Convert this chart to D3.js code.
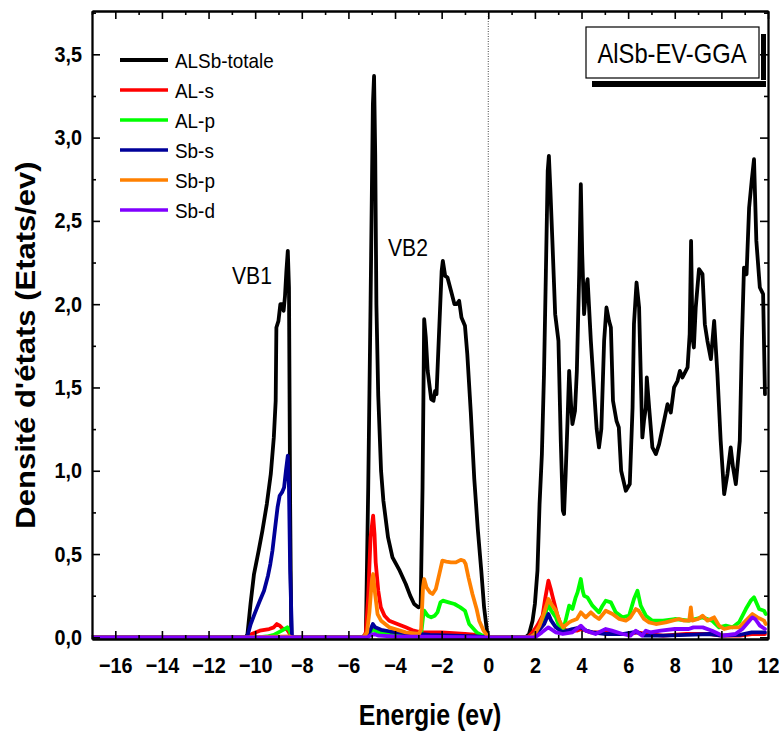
<!DOCTYPE html>
<html><head><meta charset="utf-8">
<script src="https://cdn.jsdelivr.net/npm/d3@7"></script>
<style>body{margin:0;background:#fff}svg{display:block}</style>
</head><body>
<svg id="c" width="779" height="734"></svg>
<script>
// ---------------- data ----------------
const seriesNames = ["ALSb-totale","AL-s","AL-p","Sb-s","Sb-p","Sb-d"];
const seriesColors = ["#000000","#ff0000","#00ff00","#000099","#ff8000","#8000ff"];
const xTicks = [-16,-14,-12,-10,-8,-6,-4,-2,0,2,4,6,8,10,12];
const xMinorTicks = [-17,-15,-13,-11,-9,-7,-5,-3,-1,1,3,5,7,9,11];
const yTicks = [0,0.5,1.0,1.5,2.0,2.5,3.0,3.5];
const yMinorTicks = [0.25,0.75,1.25,1.75,2.25,2.75,3.25,3.75];
const bandLabels = ["VB1","VB2"];
const boxLabel = "AlSb-EV-GGA";

const total = [[-17,0],[-10.4,0],[-10.33,0.02],[-10.2,0.2],[-10.05,0.38],[-9.85,0.52],[-9.69,0.64],[-9.5,0.8],[-9.33,0.98],[-9.2,1.2],[-9.12,1.42],[-9.09,1.86],[-9.0,1.9],[-8.92,2.0],[-8.85,2.0],[-8.78,1.96],[-8.72,2.05],[-8.66,2.2],[-8.6,2.32],[-8.55,2.1],[-8.5,0.8],[-8.45,0.0],
[-5.4,0],[-5.25,0.02],[-5.15,0.9],[-5.05,2.0],[-4.95,3.2],[-4.9,3.37],[-4.85,2.9],[-4.8,2.0],[-4.72,1.45],[-4.6,1.0],[-4.5,0.82],[-4.3,0.6],[-4.11,0.48],[-3.8,0.4],[-3.54,0.32],[-3.35,0.25],[-3.18,0.2],[-3.0,0.18],[-2.9,0.19],[-2.82,0.9],[-2.75,1.91],[-2.68,1.8],[-2.6,1.6],[-2.45,1.43],[-2.35,1.42],[-2.28,1.48],[-2.22,1.46],[-2.12,1.8],[-2.0,2.2],[-1.95,2.26],[-1.85,2.17],[-1.75,2.16],[-1.6,2.08],[-1.45,2.0],[-1.35,2.0],[-1.25,2.02],[-1.15,1.92],[-1.0,1.87],[-0.9,1.7],[-0.75,1.35],[-0.6,0.95],[-0.45,0.65],[-0.3,0.4],[-0.18,0.18],[-0.05,0.03],[0,0],
[1.6,0],[1.75,0.02],[1.9,0.1],[2.0,0.2],[2.11,0.4],[2.2,0.8],[2.3,1.1],[2.39,1.58],[2.47,2.18],[2.55,2.8],[2.6,2.89],[2.66,2.7],[2.75,2.38],[2.87,1.94],[3.01,1.78],[3.11,1.18],[3.2,0.76],[3.25,0.74],[3.32,0.98],[3.4,1.3],[3.47,1.6],[3.55,1.4],[3.61,1.28],[3.72,1.36],[3.8,1.6],[3.9,2.18],[3.97,2.72],[4.03,2.3],[4.11,1.94],[4.2,2.1],[4.26,2.15],[4.4,1.78],[4.54,1.48],[4.65,1.25],[4.75,1.14],[4.85,1.25],[4.97,1.78],[5.07,1.98],[5.18,1.9],[5.26,1.86],[5.35,1.42],[5.5,1.3],[5.6,1.26],[5.7,1.0],[5.9,0.88],[6.07,0.92],[6.19,1.38],[6.25,1.88],[6.36,2.13],[6.47,1.98],[6.54,1.58],[6.61,1.2],[6.68,1.3],[6.76,1.38],[6.8,1.56],[6.9,1.38],[7.04,1.14],[7.19,1.10],[7.33,1.16],[7.54,1.30],[7.69,1.40],[7.83,1.35],[7.97,1.5],[8.12,1.54],[8.22,1.6],[8.33,1.56],[8.55,1.62],[8.64,1.82],[8.7,2.38],[8.76,1.8],[8.82,1.74],[8.9,1.98],[9.04,2.21],[9.19,2.18],[9.29,1.88],[9.4,1.78],[9.55,1.67],[9.69,1.9],[9.83,1.58],[9.97,1.18],[10.12,0.86],[10.26,0.98],[10.4,1.14],[10.5,1.02],[10.62,0.92],[10.79,1.18],[10.88,1.78],[10.97,2.22],[11.08,2.18],[11.19,2.58],[11.3,2.74],[11.4,2.87],[11.5,2.38],[11.65,2.1],[11.79,2.06],[11.87,1.46]];

const alS = [[-17,0],[-10.3,0],[-10.15,0.02],[-9.8,0.04],[-9.4,0.05],[-9.2,0.06],[-9.07,0.08],[-8.95,0.07],[-8.8,0.05],[-8.65,0.05],[-8.55,0.03],[-8.45,0],
[-5.35,0],[-5.25,0.03],[-5.15,0.25],[-5.05,0.6],[-4.94,0.73],[-4.88,0.62],[-4.83,0.45],[-4.72,0.28],[-4.61,0.18],[-4.45,0.13],[-4.25,0.10],[-3.9,0.08],[-3.54,0.06],[-3.2,0.04],[-2.9,0.03],[-2.5,0.03],[-2.0,0.03],[-1.5,0.025],[-1.0,0.02],[-0.5,0.015],[-0.1,0.005],[0,0],
[1.7,0],[1.9,0.03],[2.1,0.07],[2.33,0.13],[2.45,0.24],[2.58,0.34],[2.68,0.29],[2.75,0.25],[2.97,0.13],[3.18,0.05],[3.4,0.04],[3.8,0.04],[4.0,0.05],[4.4,0.03],[5.0,0.03],[5.5,0.02],[6.0,0.02],[6.4,0.03],[6.8,0.02],[7.5,0.01],[8.5,0.02],[9.5,0.02],[10.0,0.01],[10.8,0.01],[11.3,0.02],[11.87,0.02]];

const alP = [[-17,0],[-9.9,0],[-9.5,0.005],[-9.2,0.015],[-9.0,0.03],[-8.8,0.045],[-8.62,0.06],[-8.52,0.04],[-8.45,0],
[-5.3,0],[-5.1,0.02],[-4.95,0.05],[-4.85,0.04],[-4.6,0.025],[-4.2,0.02],[-3.6,0.015],[-3.0,0.015],[-2.88,0.02],[-2.8,0.12],[-2.75,0.16],[-2.6,0.13],[-2.45,0.12],[-2.3,0.13],[-2.18,0.15],[-2.05,0.21],[-1.95,0.22],[-1.7,0.21],[-1.45,0.2],[-1.2,0.18],[-1.0,0.16],[-0.82,0.08],[-0.5,0.03],[-0.25,0.01],[0,0],
[1.8,0],[2.0,0.02],[2.2,0.06],[2.4,0.12],[2.58,0.2],[2.7,0.16],[2.9,0.12],[3.05,0.06],[3.21,0.04],[3.35,0.12],[3.47,0.19],[3.61,0.17],[3.75,0.24],[3.83,0.27],[3.97,0.35],[4.05,0.28],[4.11,0.25],[4.25,0.24],[4.47,0.19],[4.75,0.15],[4.9,0.19],[5.04,0.22],[5.26,0.21],[5.47,0.15],[5.76,0.12],[6.04,0.13],[6.25,0.23],[6.4,0.28],[6.54,0.19],[6.76,0.13],[7.04,0.10],[7.5,0.10],[8.0,0.11],[8.6,0.10],[9.19,0.12],[9.6,0.10],[9.9,0.06],[10.19,0.07],[10.48,0.06],[10.76,0.09],[11.05,0.17],[11.26,0.22],[11.4,0.24],[11.62,0.17],[11.83,0.16],[11.9,0.14]];

const sbS = [[-17,0],[-10.4,0],[-10.33,0.01],[-10.19,0.08],[-10.0,0.15],[-9.8,0.22],[-9.62,0.28],[-9.45,0.37],[-9.35,0.44],[-9.26,0.52],[-9.15,0.65],[-9.04,0.78],[-8.95,0.85],[-8.85,0.87],[-8.76,0.90],[-8.68,1.0],[-8.6,1.09],[-8.55,0.9],[-8.5,0.4],[-8.42,0],
[-5.3,0],[-5.1,0.03],[-4.95,0.08],[-4.85,0.06],[-4.6,0.045],[-4.2,0.035],[-3.6,0.025],[-3.0,0.02],[-2.5,0.015],[-1.5,0.01],[-0.5,0.005],[0,0],
[1.8,0],[2.1,0.03],[2.4,0.08],[2.58,0.14],[2.7,0.1],[2.9,0.06],[3.18,0.03],[3.4,0.04],[3.61,0.05],[3.97,0.06],[4.2,0.04],[4.47,0.03],[5.04,0.02],[5.76,0.02],[6.2,0.03],[6.4,0.03],[6.7,0.01],[7.5,0.01],[8.5,0.015],[9.5,0.02],[10.0,0.01],[10.8,0.015],[11.3,0.03],[11.87,0.03]];

const sbP = [[-17,0],[-10.3,0],[-9.5,0.003],[-8.5,0.005],[-8.45,0],
[-5.35,0],[-5.2,0.03],[-5.1,0.15],[-5.0,0.33],[-4.94,0.38],[-4.87,0.28],[-4.75,0.14],[-4.6,0.1],[-4.25,0.06],[-3.54,0.03],[-2.97,0.02],[-2.88,0.05],[-2.8,0.3],[-2.75,0.35],[-2.65,0.3],[-2.5,0.27],[-2.39,0.26],[-2.25,0.29],[-2.1,0.38],[-1.97,0.46],[-1.8,0.455],[-1.6,0.45],[-1.39,0.45],[-1.18,0.465],[-1.05,0.46],[-0.97,0.44],[-0.85,0.36],[-0.68,0.26],[-0.5,0.17],[-0.39,0.10],[-0.2,0.04],[-0.05,0.01],[0,0],
[1.8,0],[2.0,0.02],[2.2,0.07],[2.4,0.15],[2.58,0.23],[2.7,0.2],[2.9,0.16],[3.05,0.1],[3.21,0.06],[3.47,0.09],[3.61,0.10],[3.8,0.11],[3.97,0.15],[4.18,0.12],[4.4,0.15],[4.55,0.13],[4.75,0.11],[5.04,0.16],[5.33,0.14],[5.62,0.11],[5.9,0.10],[6.1,0.12],[6.33,0.17],[6.45,0.16],[6.68,0.11],[6.9,0.09],[7.19,0.08],[7.61,0.09],[7.9,0.10],[8.18,0.11],[8.4,0.10],[8.62,0.10],[8.69,0.18],[8.75,0.10],[9.0,0.11],[9.19,0.13],[9.4,0.10],[9.55,0.11],[9.69,0.12],[9.9,0.07],[10.12,0.05],[10.4,0.06],[10.76,0.06],[11.05,0.10],[11.33,0.14],[11.55,0.12],[11.83,0.10],[11.9,0.08]];

const sbD = [[-17,0],[-5.2,0],[-5.0,0.015],[-4.9,0.02],[-4.7,0.01],[-4.0,0.005],[0,0],
[2.0,0],[2.3,0.03],[2.58,0.06],[2.9,0.03],[3.2,0.02],[3.61,0.03],[3.97,0.07],[4.18,0.04],[4.6,0.02],[5.04,0.05],[5.3,0.04],[5.76,0.02],[6.1,0.01],[6.33,0.04],[6.5,0.02],[6.6,0.01],[6.76,0.04],[6.95,0.03],[7.4,0.04],[8.0,0.05],[8.6,0.05],[8.8,0.06],[9.2,0.06],[9.6,0.04],[10.05,0.01],[10.6,0.02],[10.9,0.05],[11.15,0.09],[11.33,0.12],[11.45,0.11],[11.65,0.07],[11.87,0.05]];

const seriesData = [total, alS, alP, sbS, sbP, sbD];

// ---------------- drawing ----------------
const svg = d3.select("#c");
const L = 92, R = 768, T = 11, B = 639;
const FONT = "'Liberation Sans', Arial, Helvetica, sans-serif";
const x = d3.scaleLinear().domain([-17, 12]).range([L, R]);
const y = d3.scaleLinear().domain([-0.01, 3.76]).range([B, T]);
const comma = v => d3.format(".1f")(v).replace(".", ",");

function addText(g, px, py, str, o) {
  o = o || {};
  return g.append("text")
    .attr("transform", `translate(${px},${py}) scale(${o.sx || 0.88},1)` + (o.rot ? ` rotate(${o.rot})` : ""))
    .attr("text-anchor", o.anchor || "start")
    .attr("font-family", FONT)
    .attr("font-size", o.size || 20)
    .attr("font-weight", o.weight || "normal")
    .attr("fill", "#000")
    .text(str);
}

svg.append("defs").append("clipPath").attr("id", "clip")
  .append("rect").attr("x", L).attr("y", T).attr("width", R - L).attr("height", B - T);

// dotted line at Fermi level
svg.append("line").attr("x1", x(0)).attr("x2", x(0)).attr("y1", T).attr("y2", B)
  .attr("stroke", "#444").attr("stroke-width", 1).attr("stroke-dasharray", "1,1.5");

// series
const line = d3.line().x(d => x(d[0])).y(d => y(d[1]));
const gl = svg.append("g").attr("clip-path", "url(#clip)");
seriesData.forEach((s, i) => {
  gl.append("path").attr("d", line(s)).attr("fill", "none")
    .attr("stroke", seriesColors[i]).attr("stroke-width", 3.8)
    .attr("stroke-linejoin", "round").attr("stroke-linecap", "round");
});

// axes
function styleAxis(g) {
  g.select(".domain").attr("stroke", "#000").attr("stroke-width", 1.8);
  g.selectAll(".tick line").attr("stroke", "#000").attr("stroke-width", 1.6);
}
const gB = svg.append("g").attr("transform", `translate(0,${B})`)
  .call(d3.axisBottom(x).tickValues(xTicks).tickSize(-8).tickSizeOuter(0).tickPadding(18).tickFormat(d3.format("d")));
gB.selectAll("text").attr("font-family", FONT).attr("font-size", 22).attr("font-weight", "bold")
  .attr("transform", "scale(0.9,1)").attr("fill", "#000");
styleAxis(gB);
const gBm = svg.append("g").attr("transform", `translate(0,${B})`)
  .call(d3.axisBottom(x).tickValues(xMinorTicks).tickSize(-4).tickSizeOuter(0).tickFormat(""));
styleAxis(gBm);

const gT = svg.append("g").attr("transform", `translate(0,${T})`)
  .call(d3.axisTop(x).tickValues(xTicks).tickSize(-8).tickSizeOuter(0).tickFormat(""));
styleAxis(gT);
const gTm = svg.append("g").attr("transform", `translate(0,${T})`)
  .call(d3.axisTop(x).tickValues(xMinorTicks).tickSize(-4).tickSizeOuter(0).tickFormat(""));
styleAxis(gTm);

const gLf = svg.append("g").attr("transform", `translate(${L},0)`)
  .call(d3.axisLeft(y).tickValues(yTicks).tickSize(-8).tickSizeOuter(0).tickPadding(11).tickFormat(comma));
gLf.selectAll("text").attr("font-family", FONT).attr("font-size", 22).attr("font-weight", "bold")
  .attr("transform", "scale(0.9,1)").attr("fill", "#000");
styleAxis(gLf);
const gLm = svg.append("g").attr("transform", `translate(${L},0)`)
  .call(d3.axisLeft(y).tickValues(yMinorTicks).tickSize(-4).tickSizeOuter(0).tickFormat(""));
styleAxis(gLm);

const gR = svg.append("g").attr("transform", `translate(${R},0)`)
  .call(d3.axisRight(y).tickValues(yTicks).tickSize(-8).tickSizeOuter(0).tickFormat(""));
styleAxis(gR);
const gRm = svg.append("g").attr("transform", `translate(${R},0)`)
  .call(d3.axisRight(y).tickValues(yMinorTicks).tickSize(-4).tickSizeOuter(0).tickFormat(""));
styleAxis(gRm);

// axis titles
addText(svg, 430, 725, "Energie (ev)", {size: 29, weight: "bold", anchor: "middle", sx: 0.86});
addText(svg, 35, 345, "Densité d'états (Etats/ev)", {size: 31, weight: "bold", anchor: "middle", sx: 0.88, rot: -90});

// band labels
addText(svg, 232, 284, bandLabels[0], {size: 24, sx: 0.88});
addText(svg, 388, 256, bandLabels[1], {size: 24, sx: 0.88});

// legend
seriesNames.forEach((n, i) => {
  const ly = 60 + i * 30;
  svg.append("line").attr("x1", 120).attr("x2", 168).attr("y1", ly).attr("y2", ly)
    .attr("stroke", seriesColors[i]).attr("stroke-width", i === 0 ? 4 : 3.5);
  addText(svg, 175, ly + 7.5, n, {size: 21, sx: 0.9});
});

// title box with shadow
svg.append("rect").attr("x", 761).attr("y", 34).attr("width", 5).attr("height", 46).attr("fill", "#000");
svg.append("rect").attr("x", 592).attr("y", 81).attr("width", 174).attr("height", 6).attr("fill", "#000");
svg.append("rect").attr("x", 586).attr("y", 27).attr("width", 173).attr("height", 51)
  .attr("fill", "#fff").attr("stroke", "#000").attr("stroke-width", 1.2);
addText(svg, 672, 63, boxLabel, {size: 27, anchor: "middle", sx: 0.88});
</script>
</body></html>
